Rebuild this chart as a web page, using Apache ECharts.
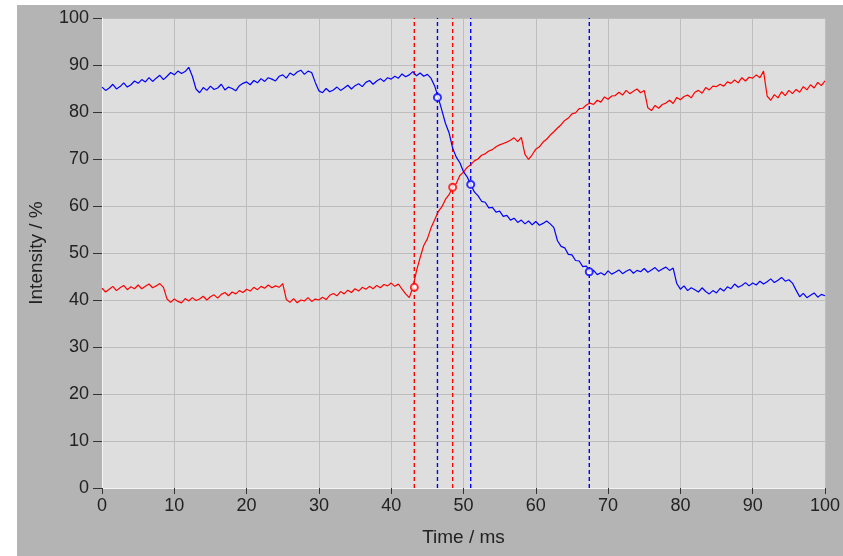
<!DOCTYPE html>
<html>
<head>
<meta charset="utf-8">
<script src="https://cdn.jsdelivr.net/npm/echarts@6/dist/echarts.min.js"></script>
<style>
  html, body { margin: 0; padding: 0; background: #ffffff; }
  /* grauer Rahmen wie im Original, links/oben weisser Streifen */
  #chart {
    position: absolute;
    left: 17px;
    top: 5px;
    width: 826px;
    height: 551px;
    background: #b4b4b4;
  }
</style>
</head>
<body>
<div id="chart"></div>
<script>
// Abtastschritt der Messkurven (ms)
const sampleStep = 0.5

// blaue Kurve, Intensitaet / %, t = 0 ... 100 ms (eine Zeile = 5 ms)
const blueValues = [
  85.3, 84.6, 85.1, 85.9, 84.9, 85.4, 86.2, 85.3, 85.8, 86.6,
  86.1, 86.9, 86.4, 87.3, 86.5, 87.2, 87.8, 86.9, 87.6, 88.4,
  87.9, 88.7, 88.2, 88.6, 89.5, 87.6, 84.9, 84.1, 85.2, 84.6,
  85.5, 84.8, 85.1, 85.9, 84.7, 85.3, 85.0, 84.5, 85.6, 86.1,
  86.4, 85.8, 86.7, 86.2, 87.1, 86.5, 87.3, 87.0, 86.6, 87.6,
  87.9, 87.2, 88.3, 87.8, 88.5, 88.9, 88.0, 88.7, 88.4, 86.3,
  84.5, 84.1, 85.0, 84.3, 84.7, 85.3, 84.6, 85.1, 85.7, 84.9,
  85.6, 86.0, 85.4, 86.3, 86.7, 85.9, 86.6, 87.1, 86.5, 87.3,
  87.0, 87.6, 87.2, 88.1, 87.5, 87.9, 88.6, 87.7, 88.3, 87.6,
  88.0, 87.2, 85.6, 83.1, 80.4, 77.6, 75.6, 72.3, 70.4, 69.2,
  67.3, 66.2, 64.6, 63.0, 62.2, 61.0, 60.8, 59.6, 59.7, 58.7,
  58.9, 57.8, 58.0, 57.0, 57.4, 56.5, 57.0, 56.2, 56.8, 56.0,
  56.7, 55.9, 56.3, 56.8, 56.2, 55.4, 52.6, 51.4, 51.1, 49.7,
  49.6, 48.4, 48.3, 47.1, 47.2, 46.0, 46.3, 45.4, 45.8, 45.3,
  46.2, 45.5, 45.9, 46.4, 45.6, 46.1, 46.5, 45.7, 46.3, 46.0,
  46.7, 45.9, 46.4, 46.9, 46.1, 46.6, 47.0, 46.3, 46.8, 43.5,
  42.3, 43.0, 42.0, 42.6, 42.2, 41.7, 42.6, 41.8, 41.3, 42.0,
  41.5, 42.5, 41.9, 42.8, 42.4, 43.4, 42.7, 43.1, 43.7, 43.0,
  43.6, 43.2, 44.0, 43.4, 43.9, 44.5, 43.7, 44.2, 44.8, 44.0,
  44.3, 43.6, 42.1, 40.7, 41.4, 40.5, 41.0, 41.5, 40.6, 41.2,
  40.9
]

// rote Kurve
const redValues = [
  42.5, 41.7, 42.3, 42.9, 42.0, 42.6, 43.1, 42.2, 42.8, 42.4,
  43.2, 42.4, 42.9, 43.4, 42.6, 43.0, 43.5, 42.7, 40.2, 39.5,
  40.2, 39.7, 39.4, 40.3, 39.8, 40.5, 39.9, 40.2, 40.8, 40.0,
  40.7, 41.1, 40.4, 41.2, 41.6, 40.9, 41.7, 41.3, 42.0, 41.6,
  42.3, 41.9, 42.7, 42.2, 42.9, 42.5, 43.2, 42.6, 43.0, 42.7,
  43.5, 40.1, 39.5, 40.3, 39.4, 40.0, 39.8, 40.5, 39.7, 40.2,
  40.0, 40.6, 40.1, 41.0, 41.4, 40.9, 41.8, 41.3, 42.1, 41.6,
  42.4, 41.9, 42.7, 42.3, 42.9, 42.4, 43.1, 42.6, 43.3, 43.0,
  43.6, 42.9, 43.4, 42.3, 41.3, 40.5, 42.7, 46.2, 49.0, 51.6,
  53.0, 55.3, 57.0, 58.8, 59.8, 61.4, 62.4, 64.0, 64.8, 66.5,
  67.2, 68.2, 68.8, 69.6, 70.0, 70.8, 71.1, 71.7, 72.0, 72.6,
  73.0, 73.3, 73.6, 74.0, 74.5, 73.7, 74.6, 71.0, 69.9, 70.9,
  72.1, 72.6, 73.6, 74.2, 75.1, 75.8, 76.6, 77.3, 78.2, 78.7,
  79.6, 79.8, 80.7, 80.8, 81.5, 81.9, 81.6, 82.5, 82.1, 83.2,
  82.7, 83.4, 83.5, 84.2, 83.6, 84.6, 83.9, 84.4, 84.9, 84.1,
  84.6, 80.9, 80.3, 81.4, 80.8, 81.6, 81.9, 82.5, 81.8, 83.1,
  82.6, 83.3, 83.6, 83.0, 84.2, 84.6, 84.0, 85.2, 84.7, 85.5,
  85.4, 85.9, 85.5, 86.4, 86.1, 86.8, 86.2, 87.3, 86.6, 87.4,
  87.2, 87.9, 87.3, 88.7, 83.4, 82.5, 83.7, 83.0, 84.3, 83.5,
  84.6, 83.9, 84.8, 84.2, 85.4, 84.7, 85.8, 85.1, 86.3, 85.6,
  86.6
]

// Cursor-Positionen (ms)
const redCursors = [43.2, 48.5]
const blueCursors = [46.4, 51.0, 67.4]

function toPairs(values) {
  return values.map((v, i) => [i * sampleStep, v])
}

// Kreismarke dort, wo der Cursor die Kurve schneidet
function cursorPoints(times, values) {
  return times.map(t => [t, values[Math.round(t / sampleStep)]])
}

// senkrechte gestrichelte Cursorlinie ueber die ganze y-Achse
function cursorSeries(times, color) {
  return times.map(t => ({
    type: 'line',
    silent: true,
    symbol: 'none',
    color: color,
    lineStyle: { color: color, type: [4, 3], width: 1.4 },
    data: [[t, 0], [t, 100]],
    z: 2
  }))
}

const myChart = echarts.init(document.getElementById('chart'))

const axisFont = { fontFamily: 'Liberation Sans, Arial, sans-serif', color: '#222', fontSize: 18 }

const option = {
  animation: false,
  grid: {
    left: 85,
    right: 15,
    top: 13,
    bottom: 68,
    show: true,
    backgroundColor: '#dedede',
    borderWidth: 0
  },
  xAxis: {
    type: 'value',
    min: 0,
    max: 100,
    interval: 10,
    name: 'Time / ms',
    nameLocation: 'middle',
    nameGap: 40,
    nameTextStyle: { ...axisFont, fontSize: 19 },
    axisLine: { show: true, lineStyle: { color: '#f2f2f2', width: 1 } },
    axisTick: { show: true, length: 6, lineStyle: { color: '#333' } },
    axisLabel: { ...axisFont, margin: 9 },
    splitLine: { show: true, lineStyle: { color: '#bdbdbd', width: 1 } }
  },
  yAxis: {
    type: 'value',
    min: 0,
    max: 100,
    interval: 10,
    name: 'Intensity / %',
    nameLocation: 'middle',
    nameGap: 56,
    nameTextStyle: { ...axisFont, fontSize: 19 },
    axisLine: { show: true, lineStyle: { color: '#f2f2f2', width: 1 } },
    axisTick: { show: true, length: 9, lineStyle: { color: '#333' } },
    axisLabel: { ...axisFont, margin: 13 },
    splitLine: { show: true, lineStyle: { color: '#bdbdbd', width: 1 } }
  },
  series: [
    ...cursorSeries(redCursors, '#ff0000'),
    ...cursorSeries(blueCursors, '#0000ff'),
    {
      name: 'red',
      type: 'line',
      silent: true,
      symbol: 'none',
      color: '#ff0000',
      lineStyle: { color: '#ff0000', width: 1.2 },
      data: toPairs(redValues),
      z: 3
    },
    {
      name: 'blue',
      type: 'line',
      silent: true,
      symbol: 'none',
      color: '#0000ff',
      lineStyle: { color: '#0000ff', width: 1.2 },
      data: toPairs(blueValues),
      z: 3
    },
    {
      type: 'scatter',
      silent: true,
      symbol: 'emptyCircle',
      symbolSize: 7,
      itemStyle: { color: '#ff0000', borderWidth: 1 },
      data: cursorPoints(redCursors, redValues),
      z: 4
    },
    {
      type: 'scatter',
      silent: true,
      symbol: 'emptyCircle',
      symbolSize: 7,
      itemStyle: { color: '#0000ff', borderWidth: 1 },
      data: cursorPoints(blueCursors, blueValues),
      z: 4
    }
  ]
}
option && myChart.setOption(option)
</script>
</body>
</html>
